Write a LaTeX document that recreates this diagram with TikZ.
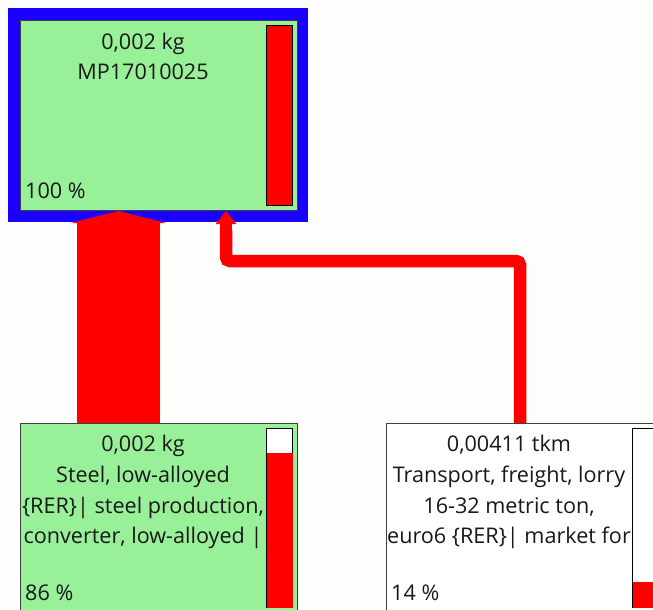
\documentclass[tikz,border=0pt]{standalone}
\usepackage{fontspec}
\setmainfont{Open Sans}
\usetikzlibrary{arrows.meta}
\definecolor{bg}{RGB}{253,253,251}
\definecolor{pgreen}{RGB}{152,240,152}
\definecolor{fblue}{RGB}{26,0,255}
\definecolor{bred}{RGB}{255,0,0}
\definecolor{txt}{RGB}{25,25,25}
\begin{document}
\begin{tikzpicture}[x=1pt,y=-1pt,
  box/.style={draw=black!75, line width=1.3pt, minimum width=277pt, inner sep=0pt, anchor=north west, rectangle},
  gbox/.style={box, fill=pgreen},
  wbox/.style={box, fill=white},
  bar/.style={draw=black, line width=1.3pt, minimum width=26pt, inner sep=0pt, anchor=north west, rectangle},
  lbl/.style={font=\fontsize{21.6}{25}\selectfont, text=txt, inner sep=0pt, anchor=base},
  pct/.style={lbl, anchor=base west},
  flow/.style={draw=bred, line width=12.5pt, rounded corners=4pt}
]
\useasboundingbox[fill=bg] (0,0) rectangle (653,610);
\clip (0,0) rectangle (653,610);

% top process
\node[fill=fblue, minimum width=300pt, minimum height=214pt, inner sep=0pt, anchor=north west] (frame) at (8,8) {};

% connectors
\coordinate (bigS) at (118.5,423);
\coordinate (bigE) at (118.5,211);
\draw[draw=bred, line width=83pt, -{Triangle[width=95pt,length=12pt]}] (bigS) -- (bigE);
\coordinate (thS) at (520,423);
\coordinate (thM) at (226,261);
\coordinate (thE) at (226,211);
\draw[flow] (thS) |- (thM) -- (226,230);
\draw[draw=bred, line width=12.5pt, -{Triangle[width=20pt,length=13pt]}] (226,235) -- (thE);

\node[gbox, minimum height=190pt] (top) at (20,20) {};
\node[lbl] (topq) at (143,49.5) {0,002 kg};
\node[lbl] (topn) at (143,80) {MP17010025};
\node[pct] (topp) at (25,198) {100 \%};
\node[bar, fill=bred, minimum height=180pt] (topbar) at (266,25) {};

% steel
\node[gbox, minimum height=200pt] (steel) at (20,423) {};
\node[lbl] (stq) at (143,451.5) {0,002 kg};
\node[lbl] (st1) at (143,482.5) {Steel, low-alloyed};
\node[lbl] (st2) at (143,513) {\{RER\}| steel production,};
\node[lbl] (st3) at (143,543.5) {converter, low-alloyed |};
\node[pct] (stp) at (25,600) {86 \%};
\node[bar, fill=white, minimum height=179pt] (stbar) at (266,428) {};
\fill[bred] ([xshift=0.65pt,yshift=-25pt]stbar.north west) rectangle ([xshift=-0.65pt,yshift=0.65pt]stbar.south east);

% transport
\node[wbox, minimum height=200pt] (tr) at (386,423) {};
\node[lbl] (trq) at (509,451.5) {0,00411 tkm};
\node[lbl] (tr1) at (509,482.5) {Transport, freight, lorry};
\node[lbl] (tr2) at (509,513) {16-32 metric ton,};
\node[lbl] (tr3) at (509,543.5) {euro6 \{RER\}| market for};
\node[pct] (trp) at (391,600) {14 \%};
\node[bar, fill=white, minimum height=179pt] (trbar) at (632,428) {};
\fill[bred] ([xshift=0.65pt,yshift=-154pt]trbar.north west) rectangle ([xshift=-0.65pt,yshift=0.65pt]trbar.south east);
\end{tikzpicture}
\end{document}
